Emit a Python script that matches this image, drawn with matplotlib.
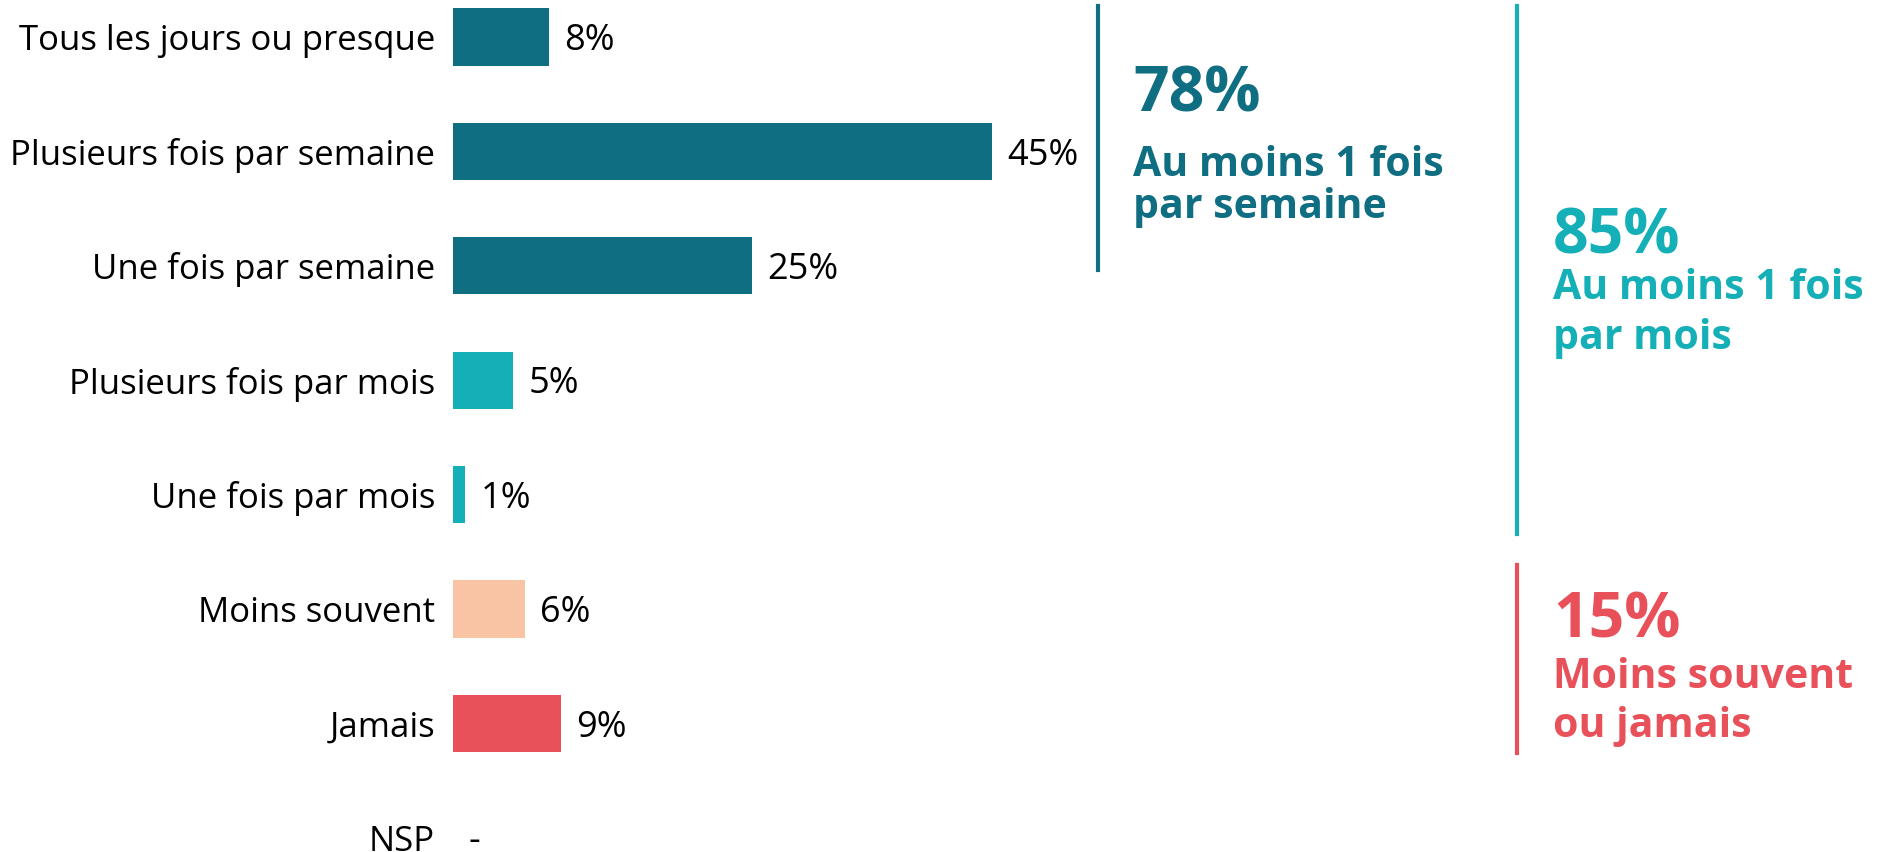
import matplotlib
matplotlib.use('Agg')
import matplotlib.pyplot as plt
from matplotlib.lines import Line2D

plt.rcParams['font.family'] = ['Open Sans', 'DejaVu Sans']

# Données
categories = ['Tous les jours ou presque', 'Plusieurs fois par semaine', 'Une fois par semaine',
              'Plusieurs fois par mois', 'Une fois par mois', 'Moins souvent', 'Jamais', 'NSP']
values = [8, 45, 25, 5, 1, 6, 9, None]
bar_colors = ['#0F6E82', '#0F6E82', '#0F6E82', '#14AFB7', '#14AFB7', '#F8C4A4', '#E8505A', '#FFFFFF']

groups = [
    ('78%', 'Au moins 1 fois\npar semaine', '#0F6E82'),
    ('85%', 'Au moins 1 fois\npar mois', '#14AFB7'),
    ('15%', 'Moins souvent\nou jamais', '#E8505A'),
]

W, H = 1886, 852
fig = plt.figure(figsize=(W / 100, H / 100), dpi=100)
ax = fig.add_axes([453 / W, 0, 1 - 453 / W, 1])

px_per_pct = (992 - 453) / 45
ax.set_xlim(0, (W - 453) / px_per_pct)
step = 114.4
ax.set_ylim((H - 37) / step, -37 / step)

y = list(range(len(categories)))
ax.barh(y, [v if v is not None else 0 for v in values], height=0.5, color=bar_colors)

for i, v in enumerate(values):
    txt = f'{v}%' if v is not None else '-'
    ax.annotate(txt, (v if v is not None else 0, i), xytext=(11, -3), textcoords='offset points',
                va='center', ha='left', fontsize=26, color='black')

ax.set_yticks(y, categories, fontsize=25)
ax.tick_params(axis='y', length=0, pad=13)
ax.set_xticks([])
for s in ax.spines.values():
    s.set_visible(False)


def fy(py):
    return 1 - py / H


# Accolades verticales
lines = [(1098, 6, 270, groups[0][2]), (1517, 6, 534, groups[1][2]), (1517, 565, 753, groups[2][2])]
for x, y0, y1, c in lines:
    fig.add_artist(Line2D([x / W, x / W], [fy(y0), fy(y1)], color=c, lw=3))

# Textes des regroupements
pos = [(1133, 111, 176, 42), (1553, 253, 299, 50), (1553, 637, 688, 49)]
for (big, sub, c), (x, yb, ys, gap) in zip(groups, pos):
    fig.text(x / W, fy(yb), big, color=c, fontsize=45, fontweight='bold', va='baseline')
    l1, l2 = sub.split('\n')
    fig.text(x / W, fy(ys), l1, color=c, fontsize=29.5, fontweight='bold', va='baseline')
    fig.text(x / W, fy(ys + gap), l2, color=c, fontsize=29.5, fontweight='bold', va='baseline')

plt.savefig('out.png', dpi=100)
